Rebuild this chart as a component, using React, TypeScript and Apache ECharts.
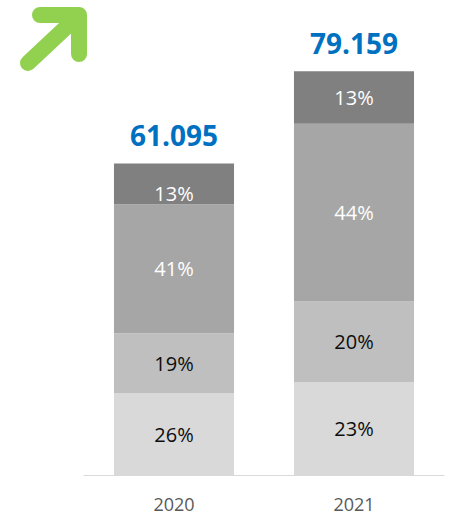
import React, { useEffect, useRef } from "react";
import * as echarts from "echarts";

const categories = ["2020", "2021"];
const totals = [61.095, 79.159];
const shareBottom = [26, 23];
const shareLow = [19, 20];
const shareMid = [41, 44];
const shareTop = [13, 13];

const FONT = "'Open Sans', 'Noto Sans', sans-serif";

export default function App() {
  const ref = useRef<HTMLDivElement>(null);
  useEffect(() => {
    if (!ref.current) return;
    const chart = echarts.init(ref.current, null, { renderer: "svg" });
    const shareSets = [shareBottom, shareLow, shareMid, shareTop];
    const sums = categories.map((_, i) => shareSets.reduce((a, s) => a + s[i], 0));
    const colors = ["#d9d9d9", "#bfbfbf", "#a6a6a6", "#808080"];
    const labelColors = ["#0d0d0d", "#0d0d0d", "#ffffff", "#ffffff"];
    const series: any[] = shareSets.map((shares, k) => ({
      type: "bar",
      stack: "total",
      barCategoryGap: "33.3%",
      itemStyle: { color: colors[k] },
      label: {
        show: true,
        position: "inside",
        color: labelColors[k],
        fontFamily: FONT,
        fontSize: 20,
        formatter: (p: any) => `${shares[p.dataIndex]}%`,
      },
      data: categories.map((_, i) => {
        const v = (totals[i] * shares[i]) / sums[i];
        if (k === 3 && i === 0) {
          return { value: v, label: { offset: [0, 10] } };
        }
        return v;
      }),
    }));
    series.push({
      type: "bar",
      stack: "total",
      itemStyle: { color: "transparent" },
      label: {
        show: true,
        position: "top",
        distance: 14,
        color: "#0070c0",
        fontFamily: FONT,
        fontWeight: "bold",
        fontSize: 28,
        formatter: (p: any) => totals[p.dataIndex].toFixed(3),
      },
      data: categories.map(() => 0),
    });
    chart.setOption({
      animation: false,
      grid: { left: 84, right: 15, top: 16, bottom: 42 },
      xAxis: {
        type: "category",
        data: categories,
        axisLine: { lineStyle: { color: "#d9d9d9", width: 1 } },
        axisTick: { show: false },
        axisLabel: {
          color: "#595959",
          fontFamily: FONT,
          fontSize: 18,
          lineHeight: 18,
          margin: 20,
        },
      },
      yAxis: {
        type: "value",
        min: 0,
        max: 90,
        show: false,
        splitLine: { show: false },
      },
      graphic: [
        {
          type: "polyline",
          shape: { points: [[40, 15], [79, 15], [79, 54]] },
          style: { stroke: "#92d050", lineWidth: 16, fill: null, lineCap: "round", lineJoin: "round" },
        },
        {
          type: "line",
          shape: { x1: 28, y1: 63, x2: 76, y2: 18 },
          style: { stroke: "#92d050", lineWidth: 16, lineCap: "round" },
        },
      ],
      series,
    });
    return () => chart.dispose();
  }, []);
  return (
    <div
      ref={ref}
      style={{ position: "fixed", left: 0, top: 0, width: 459, height: 517, background: "#ffffff" }}
    />
  );
}
